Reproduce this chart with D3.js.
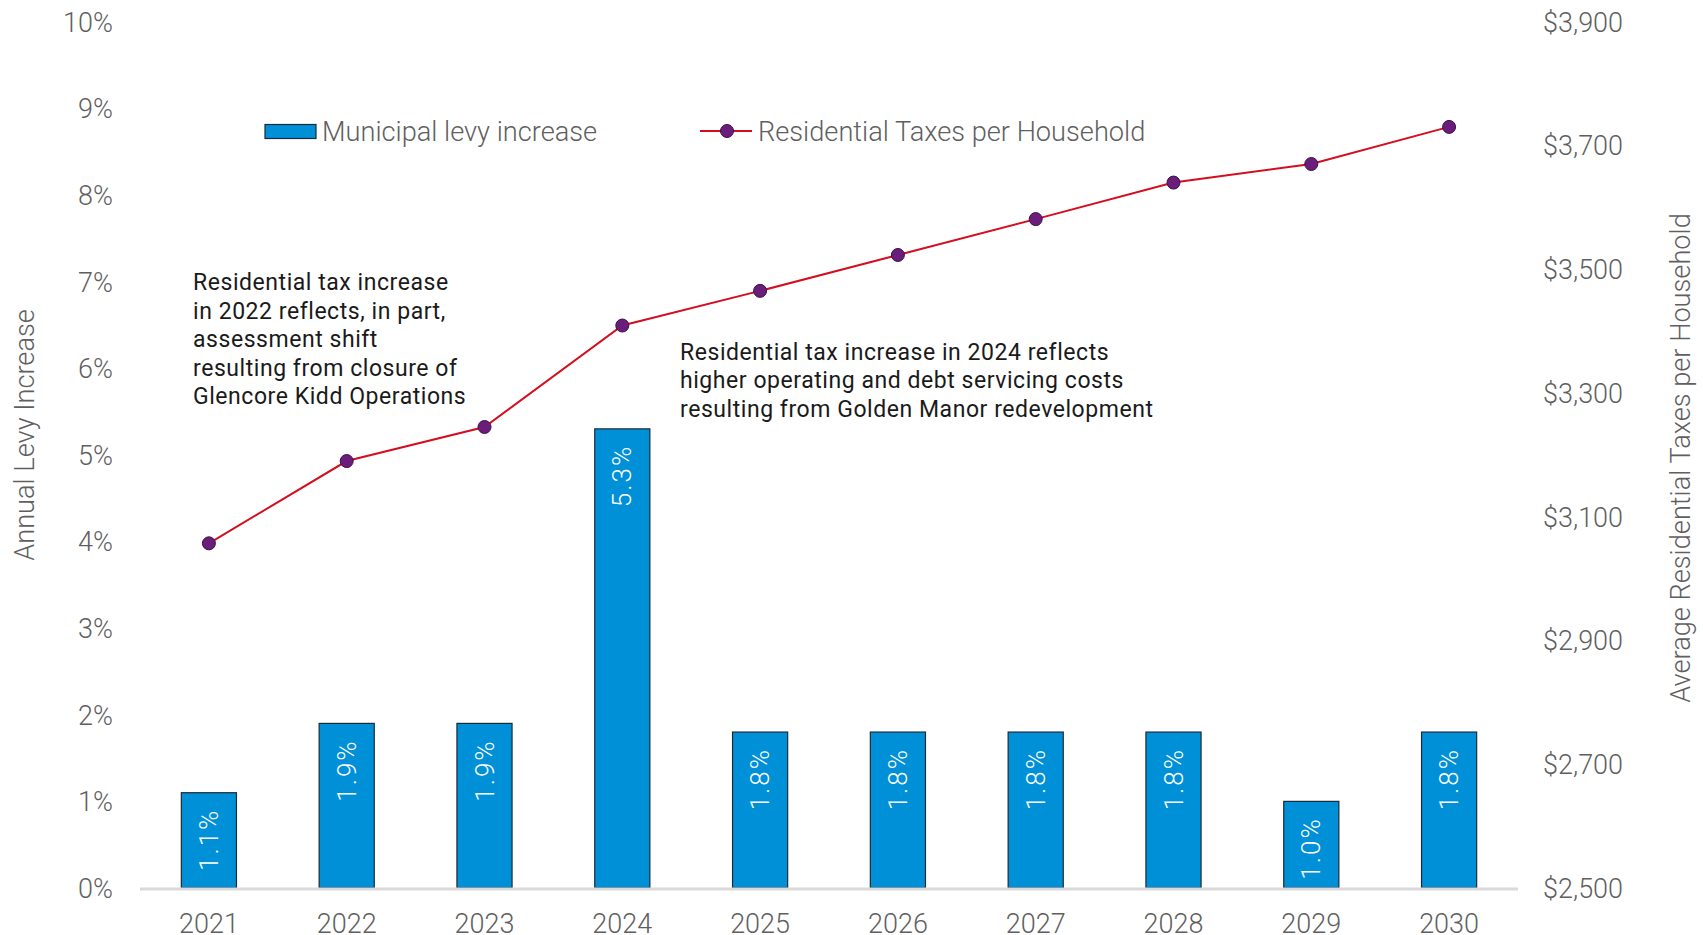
<!DOCTYPE html>
<html>
<head>
<meta charset="utf-8">
<script src="https://cdn.jsdelivr.net/npm/d3@7"></script>
<style>
  html, body { margin: 0; padding: 0; background: #ffffff; }
  svg { display: block; }
  .gray { font-family: Roboto, "Noto Sans", sans-serif; font-weight: 300; fill: #5f5f5f; }
  .note { font-family: Roboto, "Noto Sans", sans-serif; font-weight: 400; fill: #1a1a1a; }
</style>
</head>
<body>
<svg id="chart" width="1703" height="935"></svg>
<script>
// Years on the category axis
const years = ["2021", "2022", "2023", "2024", "2025", "2026", "2027", "2028", "2029", "2030"];
// Annual municipal levy increase, percent
const levyIncrease = [1.1, 1.9, 1.9, 5.3, 1.8, 1.8, 1.8, 1.8, 1.0, 1.8];
// Average residential taxes per household, dollars
const taxesPerHousehold = [3057, 3190, 3245, 3409, 3465, 3523, 3581, 3640, 3670, 3730];
// Axis ticks
const levyTicks = [0, 1, 2, 3, 4, 5, 6, 7, 8, 9, 10];
const taxTicks = [2500, 2700, 2900, 3100, 3300, 3500, 3700, 3900];
// Legend entries
const seriesNames = ["Municipal levy increase", "Residential Taxes per Household"];
// Annotation text, one entry per line
const note2022 = ["Residential tax increase", "in 2022 reflects, in part,", "assessment shift", "resulting from closure of", "Glencore Kidd Operations"];
const note2024 = ["Residential tax increase in 2024 reflects", "higher operating and debt servicing costs", "resulting from Golden Manor redevelopment"];
const axisTitles = ["Annual Levy Increase", "Average Residential Taxes per Household"];

const svg = d3.select("#chart");

const plotTop = 21.7, plotBottom = 888;
const x = d3.scaleBand().domain(years).range([140, 1518]).paddingInner(0.6).paddingOuter(0.3);
const yLeft = d3.scaleLinear().domain([0, 10]).range([plotBottom, plotTop]);
const yRight = d3.scaleLinear().domain([2500, 3900]).range([plotBottom, plotTop]);

const barColor = "#0090d8";
const lineColor = "#d40e1e";
const dotColor = "#6b1d7c";
const labelSize = 27;

// Left axis: percent labels
const leftAxis = svg.append("g").attr("transform", "translate(113,0)")
  .call(d3.axisLeft(yLeft).tickValues(levyTicks).tickSize(0).tickPadding(0).tickFormat(d => d + "%"));
leftAxis.select(".domain").remove();
leftAxis.selectAll("text").attr("class", "gray").attr("font-size", labelSize).attr("dy", "0.35em");

// Right axis: dollar labels
const rightAxis = svg.append("g").attr("transform", "translate(1543,0)")
  .call(d3.axisRight(yRight).tickValues(taxTicks).tickSize(0).tickPadding(0).tickFormat(d => "$" + d3.format(",")(d)));
rightAxis.select(".domain").remove();
rightAxis.selectAll("text").attr("class", "gray").attr("font-size", labelSize).attr("dy", "0.35em");

// Bars
svg.append("g").selectAll("rect").data(levyIncrease).join("rect")
  .attr("x", (d, i) => x(years[i]))
  .attr("y", d => yLeft(d))
  .attr("width", x.bandwidth())
  .attr("height", d => plotBottom - yLeft(d))
  .attr("fill", barColor)
  .attr("stroke", "#1b2a36")
  .attr("stroke-width", 1.2);

// Bar value labels, rotated, inside the top of each bar
svg.append("g").selectAll("text").data(levyIncrease).join("text")
  .attr("transform", (d, i) => `translate(${x(years[i]) + x.bandwidth() / 2},${yLeft(d) + 16}) rotate(-90)`)
  .attr("text-anchor", "end")
  .attr("dy", "0.35em")
  .attr("fill", "#ffffff")
  .style("font-family", "Roboto, 'Noto Sans', sans-serif")
  .style("font-weight", 300)
  .attr("font-size", 26)
  .attr("letter-spacing", 2)
  .text(d => d.toFixed(1) + "%");

// Category axis baseline
svg.append("line")
  .attr("x1", 140).attr("x2", 1518)
  .attr("y1", plotBottom + 1).attr("y2", plotBottom + 1)
  .attr("stroke", "#d9d9d9").attr("stroke-width", 3);

const bottomAxis = svg.append("g").attr("transform", `translate(0,${plotBottom})`)
  .call(d3.axisBottom(x).tickSize(0).tickPadding(31));
bottomAxis.select(".domain").remove();
bottomAxis.selectAll("text").attr("class", "gray").attr("font-size", labelSize).attr("dy", "0.5em");

// Taxes per household line
const cx = i => x(years[i]) + x.bandwidth() / 2;
const line = d3.line().x((d, i) => cx(i)).y(d => yRight(d));
svg.append("path").datum(taxesPerHousehold)
  .attr("d", line)
  .attr("fill", "none")
  .attr("stroke", lineColor)
  .attr("stroke-width", 2);

svg.append("g").selectAll("circle").data(taxesPerHousehold).join("circle")
  .attr("cx", (d, i) => cx(i))
  .attr("cy", d => yRight(d))
  .attr("r", 6.5)
  .attr("fill", dotColor)
  .attr("stroke", "#3b1042")
  .attr("stroke-width", 1);

// Legend
const legend = svg.append("g");
legend.append("rect")
  .attr("x", 265).attr("y", 124.5).attr("width", 51).attr("height", 14)
  .attr("fill", barColor).attr("stroke", "#1b2a36").attr("stroke-width", 1.2);
legend.append("text").attr("class", "gray").attr("font-size", 27.2)
  .attr("x", 322).attr("y", 131).attr("dy", "0.35em").text(seriesNames[0]);
legend.append("line")
  .attr("x1", 700).attr("x2", 752).attr("y1", 131).attr("y2", 131)
  .attr("stroke", lineColor).attr("stroke-width", 2);
legend.append("circle").attr("cx", 727).attr("cy", 131).attr("r", 6.5)
  .attr("fill", dotColor).attr("stroke", "#3b1042").attr("stroke-width", 1);
legend.append("text").attr("class", "gray").attr("font-size", 27.2)
  .attr("x", 758).attr("y", 131).attr("dy", "0.35em").text(seriesNames[1]);

// Annotations
svg.append("text").attr("class", "note").attr("font-size", 23).attr("letter-spacing", 0.55)
  .selectAll("tspan").data(note2022).join("tspan")
  .attr("x", 193).attr("y", (d, i) => 290 + i * 28.5).text(d => d);
svg.append("text").attr("class", "note").attr("font-size", 23).attr("letter-spacing", 0.55)
  .selectAll("tspan").data(note2024).join("tspan")
  .attr("x", 680).attr("y", (d, i) => 360 + i * 28.4).text(d => d);

// Axis titles
svg.append("text").attr("class", "gray").attr("font-size", 27.2)
  .attr("text-anchor", "middle")
  .attr("transform", "translate(24,435) rotate(-90)")
  .attr("dy", "0.35em")
  .text(axisTitles[0]);
svg.append("text").attr("class", "gray").attr("font-size", 27.2)
  .attr("text-anchor", "middle")
  .attr("transform", "translate(1680,458) rotate(-90)")
  .attr("dy", "0.35em")
  .text(axisTitles[1]);
</script>
</body>
</html>
